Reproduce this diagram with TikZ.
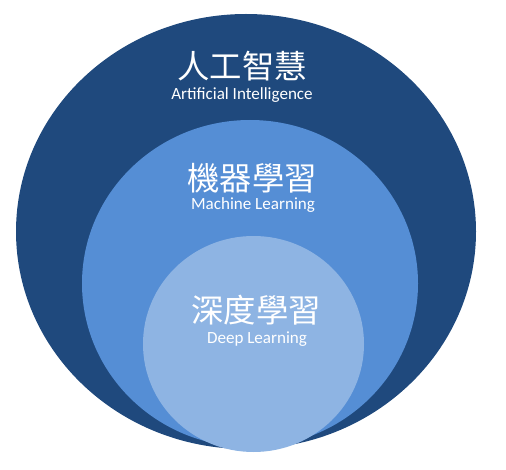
\documentclass[tikz,border=0pt]{standalone}
\usepackage{fontspec}
\setmainfont{Carlito}
\newfontfamily\cjk{Noto Sans CJK TC}
\usepackage{xcolor}
\usepackage{tikz}
\definecolor{aiblue}{HTML}{1F497D}
\definecolor{mlblue}{HTML}{558ED5}
\definecolor{dlblue}{HTML}{8EB4E3}
\tikzset{
  zh/.style={text=white, font=\cjk\fontsize{24.3}{27}\selectfont, inner sep=0pt},
  en/.style={text=white, font=\fontsize{12.8}{14}\selectfont, inner sep=0pt}
}

\begin{document}
\begin{tikzpicture}[x=0.75pt,y=-0.75pt]

% Frame
\useasboundingbox (0,0) rectangle (506,470);

% Circles
\fill[aiblue] (246,231.5) ellipse [x radius=230, y radius=217.5];  % AI
\fill[mlblue] (250,283.5) ellipse [x radius=168, y radius=163.5];  % ML
\fill[dlblue] (253.5,344) ellipse [x radius=110.5, y radius=108]; % DL

% Labels
\node[zh] (aizh) at (242,66) {人工智慧};
\node[en] (aien) at (242,95) {Artificial Intelligence};
\node[zh] (mlzh) at (252,178) {機器學習};
\node[en] (mlen) at (253,205) {Machine Learning};
\node[zh] (dlzh) at (256,310) {深度學習};
\node[en] (dlen) at (257,339) {Deep Learning};

\end{tikzpicture}
\end{document}
